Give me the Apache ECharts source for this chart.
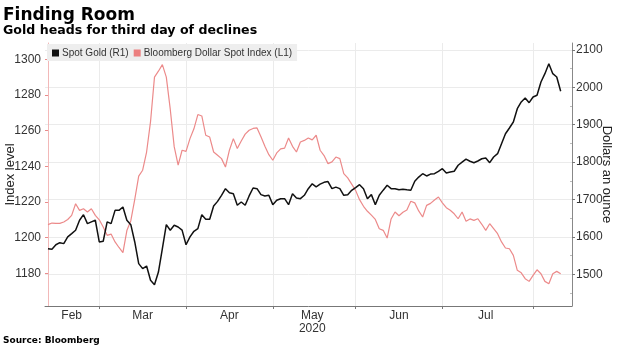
<!DOCTYPE html>
<html><head><meta charset="utf-8">
<script src="https://cdn.jsdelivr.net/npm/echarts@6/dist/echarts.min.js"></script>
<style>html,body{margin:0;padding:0;background:#fff}#c{width:620px;height:348px}</style>
</head><body><div id="c"></div>
<script>
// ---- data ----
const startDate = '2020-02-11';
const endDate = '2020-08-11';
const monthNames = ['Jan','Feb','Mar','Apr','May','Jun','Jul','Aug','Sep','Oct','Nov','Dec'];
const yearLabelMonth = 'May';
const yearLabel = '2020';
const leftTicks = [1180, 1200, 1220, 1240, 1260, 1280, 1300];
const rightTicks = [1500, 1600, 1700, 1800, 1900, 2000, 2100];
const rightMinorTicks = [1450, 1550, 1650, 1750, 1850, 1950, 2050];
const seriesNames = ['Spot Gold (R1)', 'Bloomberg Dollar Spot Index (L1)'];

const gold = [
1568.5,1567,1579,1584.5,1582,1600,1608.6,1617.7,1644.5,1659.4,
1635.4,1640,1644.5,1586.4,1588.3,1640,1635.4,1671,1671,1680,
1644.5,1632.7,1586.4,1528.4,1515,1522,1484,1472.2,1506,1568.5,
1632.7,1617.7,1631,1626.5,1618,1579,1600,1615,1622,1659.4,
1647,1647,1682.7,1695,1711.3,1729,1718.3,1715.6,1684.6,1693.4,
1684.6,1709.5,1730.8,1729,1713,1709.5,1711.3,1686.2,1698,1702.2,
1702.2,1686.2,1715.6,1704,1702.2,1711.3,1729,1742,1734,1741,
1746,1748,1729,1733,1729,1711.3,1713,1724.7,1732,1739.7,
1729,1702.2,1713,1686.2,1711.3,1725,1738,1729,1729,1726.3,
1727.4,1726,1724.7,1748.8,1760,1769,1763,1768,1769,1775.5,
1782.5,1771,1773.6,1775.5,1791.6,1800,1808,1802.3,1798.5,1803,
1809,1811,1798.5,1813.8,1822.6,1849.4,1876,1891.4,1907.4,1943,
1961,1971.6,1959,1974.3,1978.8,2014.4,2036.6,2063.4,2036.6,2027.8,
1989.5];

const dollar = [
1207.3,1208.2,1208,1208,1208.8,1210.2,1212.5,1219,1215.3,1216.2,
1214.4,1216.2,1212.5,1210,1206,1201.3,1202,1197.6,1194.5,1191.6,
1204,1209.5,1221.5,1234.5,1237.8,1248,1265,1290,1293.3,1297,
1290,1272,1251,1240.6,1249,1248.4,1255.5,1261,1269,1268.2,
1257.4,1256.4,1248,1246.2,1244.3,1239.6,1249,1255.5,1250,1254.2,
1258,1260.2,1261.2,1261.5,1256.5,1251.2,1246.5,1243.4,1247.5,1249.8,
1250.2,1255.9,1251.2,1248,1253.6,1254.5,1255.9,1254.8,1257.4,1249,
1246,1241.5,1242.5,1245.2,1244.3,1235.9,1233.5,1230,1226.5,1221.3,
1217.6,1214.8,1212.6,1210.2,1205,1204.1,1199.8,1210.5,1214.4,1212.3,
1214.2,1215.5,1220.4,1219.5,1215,1211.6,1218.1,1219.2,1221.1,1222.8,
1219.5,1216.8,1215.4,1213.4,1210.6,1214.4,1209.2,1210.5,1209.7,1210.6,
1207.5,1204.1,1207.8,1205,1202.2,1197.6,1194.2,1193.8,1190.1,1181.7,
1180.3,1177,1175.5,1178.9,1182,1179.8,1175.5,1174.2,1179.8,1181.1,
1179.8];

// ---- trading-day categories (weekdays) ----
const dates = [];
for (let d = new Date(startDate + 'T00:00:00Z'); d <= new Date(endDate + 'T00:00:00Z'); d.setUTCDate(d.getUTCDate() + 1)) {
  const wd = d.getUTCDay();
  if (wd !== 0 && wd !== 6) dates.push(d.toISOString().slice(0, 10));
}
const monthOf = i => +dates[i].slice(5, 7) - 1;
const monthEnds = [];
for (let i = 0; i < dates.length - 1; i++) if (monthOf(i) !== monthOf(i + 1)) monthEnds.push(i);
const labelPos = [];
let prev = -1;
monthEnds.forEach(b => { labelPos.push(Math.floor((prev + b) / 2)); prev = b; });

const goldData = gold.map((v, i) => [i, v]);
const dollarData = dollar.map((v, i) => [i, v]);

const chart = echarts.init(document.getElementById('c'), null, {renderer: 'canvas'});
const axisFont = {fontFamily: 'Liberation Sans', fontSize: 12, color: '#333'};
const plain = v => String(v);

chart.setOption({
  animation: false,
  backgroundColor: '#fff',
  title: [
    {text: 'Finding Room', left: 3, top: 7, padding: 0,
     textStyle: {fontFamily: 'DejaVu Sans', fontWeight: 'bold', fontSize: 17, color: '#000'}},
    {text: 'Gold heads for third day of declines', left: 3, top: 24, padding: 0,
     textStyle: {fontFamily: 'DejaVu Sans', fontWeight: 'bold', fontSize: 12.6, color: '#000'}},
    {text: 'Source: Bloomberg', left: 3, top: 336, padding: 0,
     textStyle: {fontFamily: 'DejaVu Sans', fontWeight: 'bold', fontSize: 9, color: '#000'}}
  ],
  legend: {
    left: 47, top: 44, padding: [4, 5, 3, 5], itemGap: 5,
    backgroundColor: '#eeeeee',
    icon: 'rect', itemWidth: 7, itemHeight: 7,
    textStyle: {fontFamily: 'Liberation Sans', fontSize: 10, color: '#333', padding: [0, 0, 0, -2]},
    data: seriesNames
  },
  grid: {left: 45, right: 48, top: 43, bottom: 42, containLabel: false, outerBoundsMode: 'none'},
  xAxis: {
    type: 'value', min: -0.76, max: 132.87,
    axisLine: {show: true, lineStyle: {color: '#777', width: 1}},
    axisTick: {show: true, length: 3, customValues: monthEnds, lineStyle: {color: '#777'}},
    splitLine: {show: true, lineStyle: {color: '#ebebeb', width: 1}},
    axisLabel: {
      customValues: labelPos, margin: 3, lineHeight: 13, ...axisFont,
      formatter: v => {
        const m = monthNames[monthOf(Math.round(v))];
        return m === yearLabelMonth ? m + '\n' + yearLabel : m;
      }
    }
  },
  yAxis: [
    {
      type: 'value', position: 'left', min: 1161.7, max: 1309.1,
      name: 'Index level', nameLocation: 'middle', nameGap: 28, nameMoveOverlap: false,
      nameTextStyle: {fontFamily: 'Liberation Sans', fontSize: 13, color: '#222'},
      axisLine: {show: true, lineStyle: {color: '#f2b8b8', width: 1}},
      axisTick: {show: true, length: 3, customValues: leftTicks, lineStyle: {color: '#e98b8b'}},
      axisLabel: {customValues: leftTicks, margin: 4, formatter: plain, ...axisFont},
      splitLine: {show: false}
    },
    {
      type: 'value', position: 'right', min: 1415.1, max: 2118.7,
      name: 'Dollars an ounce', nameLocation: 'middle', nameGap: 28, nameRotate: -90, nameMoveOverlap: false,
      nameTextStyle: {fontFamily: 'Liberation Sans', fontSize: 13, color: '#222'},
      axisLine: {show: true, lineStyle: {color: '#888', width: 1}},
      axisTick: {show: true, length: 3, customValues: rightTicks, lineStyle: {color: '#777'}},
      axisLabel: {customValues: rightTicks, margin: 4, formatter: plain, ...axisFont},
      splitLine: {show: true, lineStyle: {color: '#ebebeb', width: 1}}
    },
    {
      type: 'value', position: 'right', min: 1415.1, max: 2118.7,
      axisLine: {show: false},
      axisTick: {show: true, inside: true, length: 2, customValues: rightMinorTicks, lineStyle: {color: '#bbb'}},
      axisLabel: {show: false},
      splitLine: {show: false}
    }
  ],
  series: [
    {name: seriesNames[0], type: 'line', xAxisIndex: 0, yAxisIndex: 1, data: goldData,
     symbol: 'none', z: 3, lineStyle: {color: '#111', width: 1.5}, itemStyle: {color: '#111'}},
    {name: seriesNames[1], type: 'line', xAxisIndex: 0, yAxisIndex: 0, data: dollarData,
     symbol: 'none', z: 2, lineStyle: {color: '#ec8a8a', width: 1.2}, itemStyle: {color: '#ec7f7f'}}
  ]
});
</script></body></html>
